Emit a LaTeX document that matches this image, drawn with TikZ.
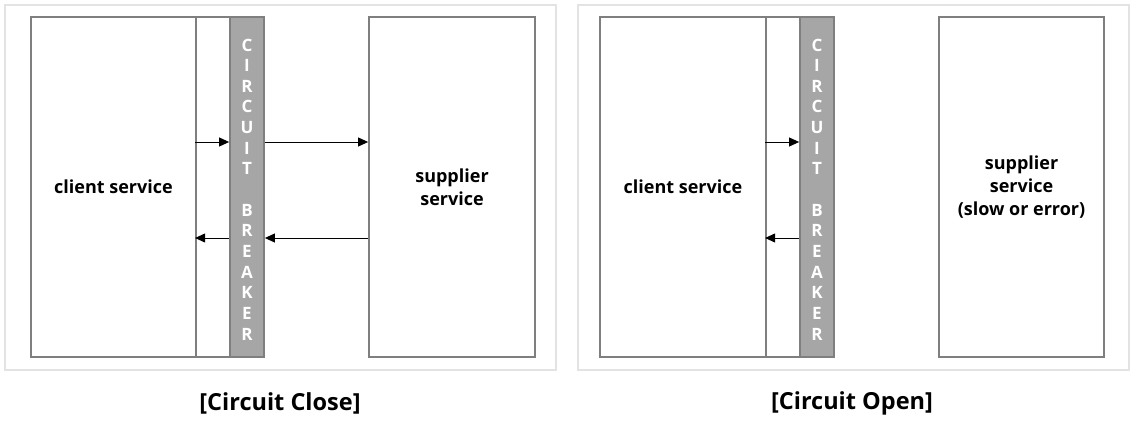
\documentclass[tikz,border=0pt]{standalone}
\usepackage{fontspec}
\setmainfont{Open Sans}
\usetikzlibrary{arrows.meta}
\definecolor{panelc}{HTML}{E3E3E3}
\definecolor{boxc}{HTML}{7F7F7F}
\definecolor{brkc}{HTML}{A6A6A6}
\tikzset{
  panel/.style={draw=panelc, line width=1.6pt, fill=white, rectangle, inner sep=0pt},
  svcbox/.style={draw=boxc, line width=1.8pt, fill=white, rectangle, inner sep=0pt, align=center,
    font=\fontsize{18}{23}\selectfont\bfseries},
  brkbox/.style={draw=boxc, line width=1.8pt, fill=brkc, rectangle, inner sep=0pt},
  brkletter/.style={text=white, font=\fontsize{17}{17}\selectfont\bfseries, inner sep=0pt},
  arr/.style={-{Triangle[length=10pt,width=9pt]}, line width=0.9pt, black},
  caption/.style={font=\fontsize{23.5}{28}\selectfont\bfseries, inner sep=0pt}
}
\newcommand{\breakerletters}[2]{%
  \foreach \ch [count=\i from 0] in {C,I,R,C,U,I,T,{},B,R,E,A,K,E,R}{
    \node[brkletter] at (#1,{45+\i*20.64}) {\ch};
  }%
}
\begin{document}
\begin{tikzpicture}[x=1pt,y=-1pt]
\useasboundingbox (0,0) rectangle (1135,423);
% panels
\node[panel, minimum width=551pt, minimum height=365pt] (pl) at (280.5,187.5) {};
\node[panel, minimum width=551pt, minimum height=365pt] (pr) at (853.5,187.5) {};
% left panel
\node[svcbox, minimum width=165pt, minimum height=340pt] (cl) at (113.5,187) {client service};
\node[svcbox, minimum width=34pt, minimum height=340pt] (nl) at (213,187) {};
\node[brkbox, minimum width=34pt, minimum height=340pt] (bl) at (247,187) {};
\node[svcbox, minimum width=166pt, minimum height=340pt] (sl) at (452,187) {supplier\\service};
\breakerletters{247}{}
\draw[arr] (nl.west |- 0,142) -- (bl.west |- 0,142);
\draw[arr] (bl.east |- 0,142) -- (sl.west |- 0,142);
\draw[arr] (sl.west |- 0,238) -- (bl.east |- 0,238);
\draw[arr] (bl.west |- 0,238) -- (nl.west |- 0,238);
% right panel
\node[svcbox, minimum width=166pt, minimum height=340pt] (cr) at (683,187) {client service};
\node[svcbox, minimum width=34pt, minimum height=340pt] (nr) at (783,187) {};
\node[brkbox, minimum width=34pt, minimum height=340pt] (br) at (817,187) {};
\node[svcbox, minimum width=165pt, minimum height=340pt] (sr) at (1021.5,187) {supplier\\service\\(slow or error)};
\breakerletters{817}{}
\draw[arr] (nr.west |- 0,142) -- (br.west |- 0,142);
\draw[arr] (br.west |- 0,238) -- (nr.west |- 0,238);
% captions
\node[caption] (capl) at (280,403) {[Circuit Close]};
\node[caption] (capr) at (852,403) {[Circuit Open]};
\end{tikzpicture}
\end{document}
